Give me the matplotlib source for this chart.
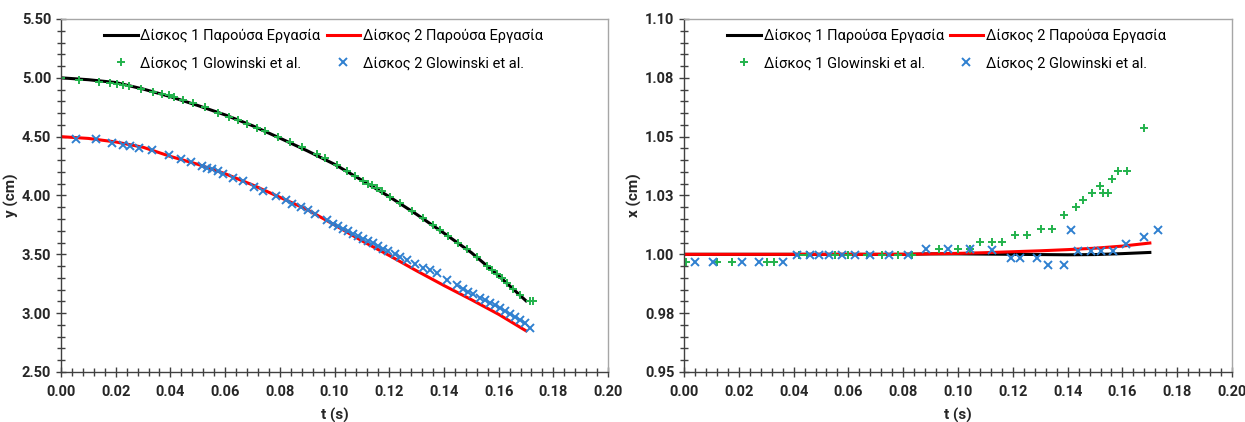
import numpy as np
import matplotlib
matplotlib.use('Agg')
import matplotlib.pyplot as plt
from matplotlib.ticker import MultipleLocator

plt.rcParams['font.family'] = ['Roboto', 'DejaVu Sans']

# --- y(t), present work (lines) ---
t_line = [0.00, 0.01, 0.02, 0.03, 0.04, 0.05, 0.06, 0.07, 0.08,
          0.09, 0.10, 0.11, 0.12, 0.13, 0.14, 0.15, 0.16, 0.17]
y_disk1 = [5.000, 4.984, 4.960, 4.905, 4.840, 4.765, 4.685, 4.593, 4.488,
           4.380, 4.265, 4.130, 3.990, 3.840, 3.680, 3.515, 3.318, 3.105]
y_disk2 = [4.500, 4.485, 4.455, 4.410, 4.332, 4.265, 4.185, 4.090, 3.985,
           3.880, 3.750, 3.615, 3.490, 3.360, 3.235, 3.115, 2.990, 2.850]

# --- y(t), Glowinski et al. (markers) ---
t_g1 = [0.0000, 0.0066, 0.0140, 0.0180, 0.0204, 0.0228, 0.0249, 0.0293, 0.0335,
        0.0370, 0.0396, 0.0414, 0.0445, 0.0484, 0.0526, 0.0573, 0.0614, 0.0646,
        0.0679, 0.0715, 0.0746, 0.0792, 0.0837, 0.0880, 0.0935, 0.0965, 0.1008,
        0.1045, 0.1075, 0.1105, 0.1124, 0.1136, 0.1154, 0.1173, 0.1203, 0.1240,
        0.1282, 0.1325, 0.1361, 0.1386, 0.1416, 0.1453, 0.1483, 0.1520, 0.1556,
        0.1575, 0.1593, 0.1611, 0.1630, 0.1654, 0.1678, 0.1715, 0.1727]
y_g1 = [5.000, 4.980, 4.965, 4.955, 4.945, 4.936, 4.927, 4.907, 4.880,
        4.865, 4.850, 4.836, 4.815, 4.785, 4.750, 4.705, 4.668, 4.638,
        4.610, 4.575, 4.545, 4.497, 4.452, 4.410, 4.350, 4.315, 4.255,
        4.205, 4.165, 4.125, 4.100, 4.085, 4.060, 4.035, 3.990, 3.935,
        3.870, 3.805, 3.745, 3.705, 3.655, 3.595, 3.545, 3.480, 3.405,
        3.368, 3.335, 3.295, 3.255, 3.205, 3.155, 3.100, 3.100]

t_g2 = [0.0054, 0.0127, 0.0185, 0.0228, 0.0252, 0.0285, 0.0331, 0.0395, 0.0439,
        0.0475, 0.0514, 0.0533, 0.0551, 0.0573, 0.0593, 0.0630, 0.0664, 0.0707,
        0.0740, 0.0785, 0.0821, 0.0846, 0.0878, 0.0904, 0.0929, 0.0971, 0.0996,
        0.1014, 0.1032, 0.1050, 0.1069, 0.1087, 0.1105, 0.1124, 0.1142, 0.1160,
        0.1178, 0.1197, 0.1221, 0.1240, 0.1264, 0.1294, 0.1325, 0.1349, 0.1374,
        0.1410, 0.1447, 0.1471, 0.1489, 0.1508, 0.1532, 0.1550, 0.1569, 0.1587,
        0.1605, 0.1623, 0.1642, 0.1660, 0.1678, 0.1697, 0.1715]
y_g2 = [4.483, 4.477, 4.449, 4.426, 4.418, 4.403, 4.384, 4.347, 4.307,
        4.285, 4.248, 4.234, 4.225, 4.205, 4.186, 4.152, 4.121, 4.072,
        4.036, 3.993, 3.965, 3.931, 3.902, 3.880, 3.846, 3.795, 3.761,
        3.739, 3.719, 3.699, 3.676, 3.654, 3.634, 3.614, 3.592, 3.569,
        3.549, 3.529, 3.507, 3.478, 3.456, 3.422, 3.388, 3.365, 3.342,
        3.285, 3.238, 3.204, 3.181, 3.161, 3.133, 3.110, 3.087, 3.068,
        3.040, 3.020, 2.997, 2.969, 2.941, 2.913, 2.870]

# --- x(t), present work (lines) ---
x_disk1 = [1.0000, 1.0000, 1.0000, 1.0000, 1.0000, 1.0000, 1.0000, 1.0000, 1.0000,
           1.0002, 1.0002, 1.0001, 1.0000, 0.9999, 0.9998, 0.9999, 1.0003, 1.0008]
x_disk2 = [1.0000, 1.0000, 1.0000, 1.0000, 1.0000, 1.0000, 1.0000, 1.0000, 1.0000,
           1.0002, 1.0004, 1.0007, 1.0011, 1.0015, 1.0020, 1.0026, 1.0035, 1.0048]

# --- x(t), Glowinski et al. (markers) ---
tx_g1 = [0.0007, 0.0122, 0.0176, 0.0304, 0.0328, 0.0420, 0.0448, 0.0551, 0.0600,
         0.0667, 0.0724, 0.0782, 0.0831, 0.0932, 0.0999, 0.1044, 0.1080, 0.1124,
         0.1162, 0.1208, 0.1253, 0.1303, 0.1344, 0.1387, 0.1430, 0.1455, 0.1489,
         0.1517, 0.1529, 0.1546, 0.1562, 0.1585, 0.1616, 0.1680]
x_g1 = [0.9967, 0.9967, 0.9967, 0.9967, 0.9967, 0.9998, 0.9998, 0.9998, 0.9998,
        0.9998, 0.9998, 0.9998, 0.9998, 1.0023, 1.0023, 1.0023, 1.0051, 1.0051,
        1.0051, 1.0081, 1.0081, 1.0109, 1.0109, 1.0169, 1.0202, 1.0230, 1.0261,
        1.0292, 1.0260, 1.0260, 1.0322, 1.0352, 1.0352, 1.0538]

tx_g2 = [0.0040, 0.0107, 0.0210, 0.0274, 0.0363, 0.0411, 0.0460, 0.0494, 0.0530,
         0.0578, 0.0624, 0.0679, 0.0749, 0.0816, 0.0883, 0.0965, 0.1044, 0.1124,
         0.1195, 0.1226, 0.1288, 0.1327, 0.1385, 0.1411, 0.1439, 0.1485, 0.1522,
         0.1566, 0.1613, 0.1679, 0.1731]
x_g2 = [0.9967, 0.9967, 0.9967, 0.9967, 0.9967, 0.9998, 0.9998, 0.9998, 0.9998,
        0.9998, 0.9998, 0.9998, 0.9998, 0.9998, 1.0023, 1.0023, 1.0023, 1.0017,
        0.9984, 0.9984, 0.9984, 0.9953, 0.9953, 1.0105, 1.0015, 1.0015, 1.0015,
        1.0013, 1.0044, 1.0074, 1.0105]

xticks = [0.00, 0.02, 0.04, 0.06, 0.08, 0.10, 0.12, 0.14, 0.16, 0.18, 0.20]
xtick_labels = ['0.00', '0.02', '0.04', '0.06', '0.08', '0.10', '0.12', '0.14', '0.16', '0.18', '0.20']
yticks_l = [2.5, 3.0, 3.5, 4.0, 4.5, 5.0, 5.5]
ytick_labels_l = ['2.50', '3.00', '3.50', '4.00', '4.50', '5.00', '5.50']
yticks_r = [0.95, 0.975, 1.0, 1.025, 1.05, 1.075, 1.10]
ytick_labels_r = ['0.95', '0.98', '1.00', '1.03', '1.05', '1.08', '1.10']

lab1 = 'Δίσκος 1 Παρούσα Εργασία'
lab2 = 'Δίσκος 2 Παρούσα Εργασία'
lab3 = 'Δίσκος 1 Glowinski et al.'
lab4 = 'Δίσκος 2 Glowinski et al.'

GREEN = '#22b24c'
BLUE = '#2f80d0'

fig = plt.figure(figsize=(12.45, 4.22), dpi=100)
ax1 = fig.add_axes([0.049, 0.1185, 0.4394, 0.8365])
ax2 = fig.add_axes([0.5494, 0.1185, 0.4402, 0.8365])


def style(ax, xminor, yminor):
    for s in ['top', 'right']:
        ax.spines[s].set_color('#a6a6a6')
        ax.spines[s].set_linewidth(1.0)
    for s in ['left', 'bottom']:
        ax.spines[s].set_color('#404040')
        ax.spines[s].set_linewidth(1.0)
    ax.xaxis.set_minor_locator(MultipleLocator(xminor))
    ax.yaxis.set_minor_locator(MultipleLocator(yminor))
    ax.tick_params(which='major', direction='inout', length=7, width=1.0, color='#404040',
                   labelsize=10.5, labelcolor='#262626')
    ax.tick_params(which='minor', direction='inout', length=6, width=1.0, color='#404040')
    ax.tick_params(axis='x', pad=6)
    for lbl in ax.get_xticklabels() + ax.get_yticklabels():
        lbl.set_fontweight('bold')


def draw(ax, yl, yd1, yd2, tg1, yg1, tg2, yg2):
    h1, = ax.plot(t_line, yd1, color='black', lw=2.2, label=lab1)
    h2, = ax.plot(t_line, yd2, color='#ff0000', lw=2.2, label=lab2)
    h3, = ax.plot(tg1, yg1, ls='none', marker='+', ms=6, mew=1.4, color=GREEN, label=lab3)
    h4, = ax.plot(tg2, yg2, ls='none', marker='x', ms=5.5, mew=1.4, color=BLUE, label=lab4)
    ax.set_xlim(0, 0.2)
    ax.set_xticks(xticks, xtick_labels)
    ax.set_xlabel('t (s)', fontsize=11, fontweight='bold', color='#262626', labelpad=6)
    ax.set_ylabel(yl, fontsize=11, fontweight='bold', color='#262626', labelpad=2)
    # column-wise fill -> rows: lines on top, markers below
    ax.legend([h1, h3, h2, h4], [lab1, lab3, lab2, lab4],
              loc='upper left', bbox_to_anchor=(0.06, 1.0), ncol=2, frameon=False,
              fontsize=10.5, handlelength=2.3, handletextpad=0.2, columnspacing=0.4,
              labelspacing=0.9, borderaxespad=0.3)


# left panel: y
draw(ax1, 'y (cm)', y_disk1, y_disk2, t_g1, y_g1, t_g2, y_g2)
ax1.set_ylim(2.5, 5.5)
ax1.set_yticks(yticks_l, ytick_labels_l)
style(ax1, 0.004, 0.1)

# right panel: x
draw(ax2, 'x (cm)', x_disk1, x_disk2, tx_g1, x_g1, tx_g2, x_g2)
ax2.set_ylim(0.95, 1.10)
ax2.set_yticks(yticks_r, ytick_labels_r)
style(ax2, 0.004, 0.005)

fig.savefig('out.png', dpi=100)
